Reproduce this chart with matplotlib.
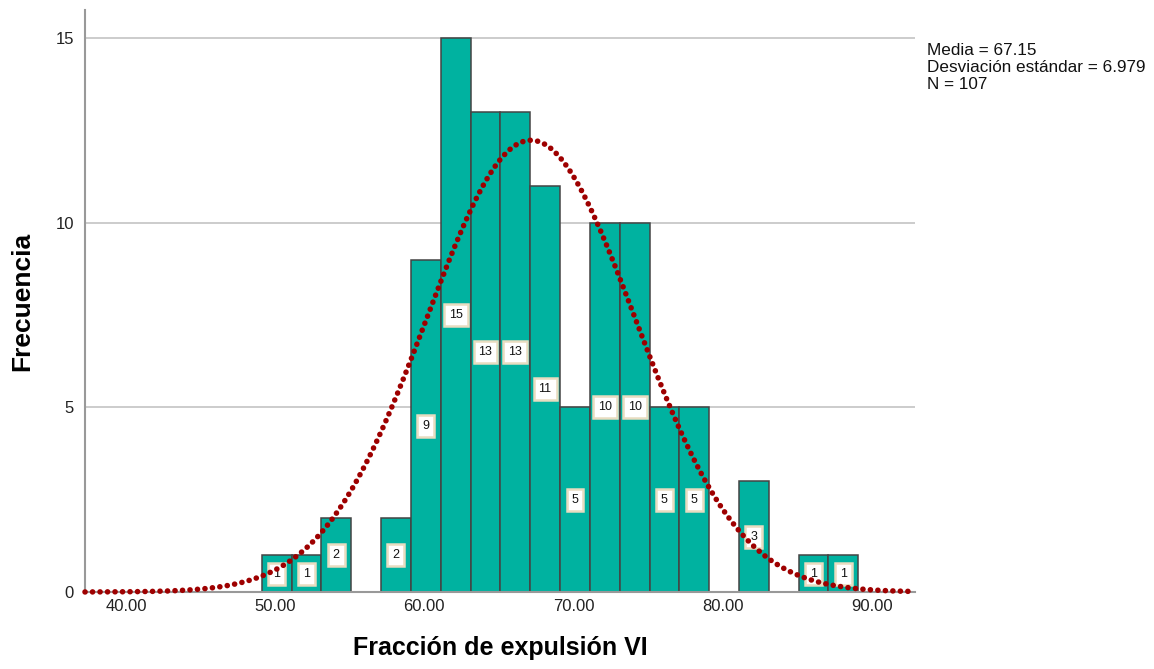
import matplotlib
matplotlib.use("Agg")
import matplotlib.pyplot as plt
import numpy as np

# histogram data (bins of width 2)
bin_left = [49.1, 51.1, 53.1, 55.1, 57.1, 59.1, 61.1, 63.1, 65.1, 67.1,
            69.1, 71.1, 73.1, 75.1, 77.1, 79.1, 81.1, 83.1, 85.1, 87.1]
counts = [1, 1, 2, 0, 2, 9, 15, 13, 13, 11, 5, 10, 10, 5, 5, 0, 3, 0, 1, 1]
bin_width = 2.0

media = 67.15
desv = 6.979
n = 107

x_ticks = [40, 50, 60, 70, 80, 90]
y_ticks = [0, 5, 10, 15]

plt.rcParams['font.family'] = ['Liberation Sans', 'DejaVu Sans']

fig = plt.figure(figsize=(11.54, 6.69), dpi=100)
ax = fig.add_axes([85 / 1154, 77 / 669, 830 / 1154, 582 / 669])

centers = [b + bin_width / 2 for b in bin_left]
ax.bar(centers, counts, width=bin_width, color='#00B2A0',
       edgecolor='#444444', linewidth=1.1, zorder=2)

# etiquetas dentro de las barras
for c, h in zip(centers, counts):
    if h == 0:
        continue
    ax.text(c, h / 2, f"{h}", ha="center", va="center", fontsize=9,
            color='#111111', zorder=3,
            bbox=dict(boxstyle="square,pad=0.4", facecolor='white',
                      edgecolor='#e8dcc0', linewidth=1.8))

# curva normal
xs = np.linspace(37.25, 92.9, 500)
ys = n * bin_width * np.exp(-0.5 * ((xs - media) / desv) ** 2) / (desv * np.sqrt(2 * np.pi))
ax.plot(xs, ys, color='#9E0000', linewidth=4.0, linestyle=(0, (0.02, 1.33)),
        dash_capstyle='round', zorder=4, clip_on=False)

ax.set_xlim(37.25, 92.9)
ax.set_ylim(0, 15.76)
ax.set_xticks(x_ticks)
ax.set_xticklabels([f"{v:.2f}" for v in x_ticks])
ax.set_yticks(y_ticks)
ax.tick_params(axis='both', length=0, labelsize=12, labelcolor='#222222')
ax.tick_params(axis='x', pad=5)
ax.tick_params(axis='y', pad=8)

for v in y_ticks[1:]:
    ax.axhline(v, color='#c4c4c4', linewidth=1.2, zorder=1)

for s in ['top', 'right']:
    ax.spines[s].set_visible(False)
for s in ['left', 'bottom']:
    ax.spines[s].set_color('#999999')
    ax.spines[s].set_linewidth(1.5)

ax.set_xlabel("Fracción de expulsión VI", fontsize=18, fontweight='bold', labelpad=16)
ax.set_ylabel("Frecuencia", fontsize=19, fontweight='bold', labelpad=15)

fig.text(927 / 1154, 1 - 43 / 669,
         f"Media = {media}\nDesviación estándar = {desv}\nN = {n}",
         ha='left', va='top', fontsize=12.3, linespacing=1.15, color='#111111')

fig.savefig("out.png", dpi=100)
